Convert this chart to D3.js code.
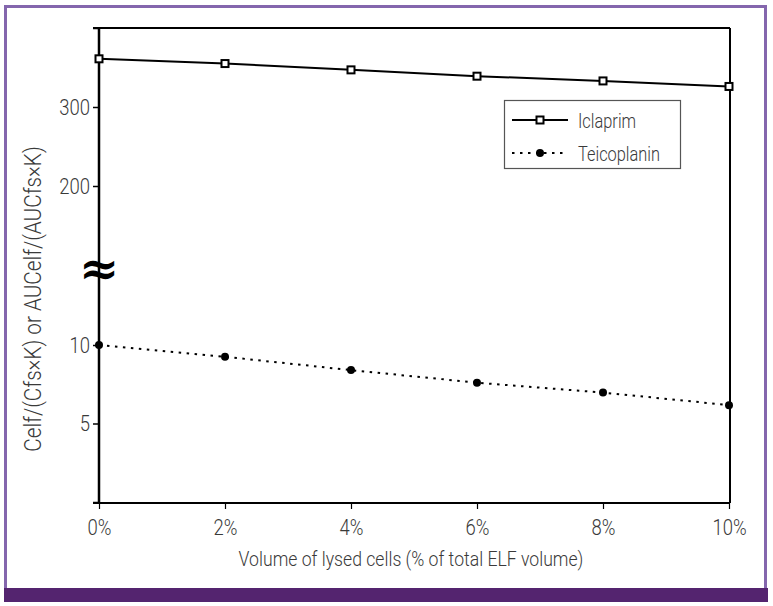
<!DOCTYPE html>
<html><head><meta charset="utf-8">
<script src="https://cdn.jsdelivr.net/npm/d3@7"></script>
<style>
body{margin:0;background:#fff;}
text{font-family:Roboto,sans-serif;font-weight:300;fill:#3a3a3a;}
</style></head>
<body>
<svg id="c" width="773" height="606"></svg>
<script>
const xCats = [0, 2, 4, 6, 8, 10];
const xTickLabels = ["0%", "2%", "4%", "6%", "8%", "10%"];
const iclaprim = [361, 355, 347, 339, 333, 326];
const teicoplanin = [10, 9.25, 8.4, 7.6, 6.97, 6.17];
const lowerTicks = [0, 5, 10];
const lowerTickLabels = ["", "5", "10"];
const upperTicks = [200, 300, 400];
const upperTickLabels = ["200", "300", ""];
const seriesNames = ["Iclaprim", "Teicoplanin"];

const svg = d3.select("#c");
svg.append("rect").attr("x",5.5).attr("y",6.5).attr("width",760).attr("height",590)
  .attr("fill","none").attr("stroke","#8466ad").attr("stroke-width",3);
svg.append("rect").attr("x",4).attr("y",588).attr("width",764).attr("height",14).attr("fill","#54246f");

const x = d3.scaleLinear().domain([0,10]).range([99,729]);
const yLow = d3.scaleLinear().domain([0,10]).range([502,345]);
const yUp = d3.scaleLinear().domain([200,400]).range([186,28]);

const L=99, R=730, T=28, B=503;
svg.append("line").attr("x1",L-6).attr("x2",R).attr("y1",T).attr("y2",T).attr("stroke","#000").attr("stroke-width",2);
svg.append("line").attr("x1",R).attr("x2",R).attr("y1",T).attr("y2",B).attr("stroke","#000").attr("stroke-width",2);

function styleText(sel, size, f){
  sel.attr("font-size",size).attr("fill","#3a3a3a").style("font-family","Roboto,sans-serif").style("font-weight",300).attr("data-f",f);
}

const xAxis = d3.axisBottom(x).tickValues(xCats).tickFormat((d,i)=>xTickLabels[i]).tickSize(6).tickPadding(10);
const gx = svg.append("g").attr("transform",`translate(0,${B})`).call(xAxis);
gx.select(".domain").attr("d",`M${L-6},0H${R}`).attr("stroke","#000").attr("stroke-width",2);
gx.selectAll(".tick line").attr("stroke","#000").attr("stroke-width",1.2);
styleText(gx.selectAll("text"), 22, 0.84);

const gyL = svg.append("g").attr("transform",`translate(${L},0)`)
  .call(d3.axisLeft(yLow).tickValues(lowerTicks).tickFormat((d,i)=>lowerTickLabels[i]).tickSize(6).tickPadding(3));
const gyU = svg.append("g").attr("transform",`translate(${L},0)`)
  .call(d3.axisLeft(yUp).tickValues(upperTicks).tickFormat((d,i)=>upperTickLabels[i]).tickSize(6).tickPadding(3));
[gyL,gyU].forEach(g=>{
  g.select(".domain").remove();
  g.selectAll(".tick line").attr("stroke","#000").attr("stroke-width",1.5);
  styleText(g.selectAll("text"), 22, 0.84);
});
svg.append("line").attr("x1",L).attr("x2",L).attr("y1",T-1).attr("y2",B+1).attr("stroke","#000").attr("stroke-width",2.5);

// break symbol
svg.append("text").attr("x",L).attr("y",285).attr("text-anchor","middle")
  .style("font-family","'DejaVu Serif',serif").style("font-weight","bold").attr("font-size",48).style("fill","#000").text("≈");

const lineI = d3.line().x((d,i)=>x(xCats[i])).y(d=>yUp(d));
svg.append("path").datum(iclaprim).attr("d",lineI).attr("fill","none").attr("stroke","#000").attr("stroke-width",2);
svg.selectAll(".mi").data(iclaprim).enter().append("rect")
  .attr("x",(d,i)=>x(xCats[i])-3.5).attr("y",d=>yUp(d)-3.5).attr("width",7).attr("height",7)
  .attr("fill","#fff").attr("stroke","#000").attr("stroke-width",2);

const lineT = d3.line().x((d,i)=>x(xCats[i])).y(d=>yLow(d));
svg.append("path").datum(teicoplanin).attr("d",lineT).attr("fill","none").attr("stroke","#000")
  .attr("stroke-width",2).attr("stroke-dasharray","2.5,5.5");
svg.selectAll(".mt").data(teicoplanin).enter().append("circle")
  .attr("cx",(d,i)=>x(xCats[i])).attr("cy",d=>yLow(d)).attr("r",4).attr("fill","#000");

const lg = svg.append("g");
lg.append("rect").attr("x",504.5).attr("y",100.5).attr("width",176).attr("height",68)
  .attr("fill","#fff").attr("stroke","#555").attr("stroke-width",1.2);
lg.append("line").attr("x1",512).attr("x2",568).attr("y1",120).attr("y2",120).attr("stroke","#000").attr("stroke-width",2);
lg.append("rect").attr("x",536.5).attr("y",116.5).attr("width",7).attr("height",7).attr("fill","#fff").attr("stroke","#000").attr("stroke-width",2);
lg.append("line").attr("x1",512).attr("x2",568).attr("y1",153).attr("y2",153).attr("stroke","#000").attr("stroke-width",2).attr("stroke-dasharray","2.5,5.5");
lg.append("circle").attr("cx",540).attr("cy",153).attr("r",4).attr("fill","#000");
styleText(lg.append("text").attr("x",578).attr("y",128).text(seriesNames[0]), 21, 0.78);
styleText(lg.append("text").attr("x",578).attr("y",161).text(seriesNames[1]), 21, 0.78);

styleText(svg.append("text").attr("x",411).attr("y",566).attr("text-anchor","middle")
  .text("Volume of lysed cells (% of total ELF volume)"), 21, 0.84);
styleText(svg.append("text").attr("transform","translate(41,299) rotate(-90)").attr("text-anchor","middle")
  .text("Celf/(Cfs×K) or AUCelf/(AUCfs×K)"), 23, 0.9);

svg.selectAll("text[data-f]").filter(function(){return this.textContent.length>0;})
  .each(function(){
    const f = +this.getAttribute("data-f");
    const len = this.getComputedTextLength();
    d3.select(this).attr("textLength", len*f).attr("lengthAdjust","spacingAndGlyphs");
  });
</script>
</body></html>
